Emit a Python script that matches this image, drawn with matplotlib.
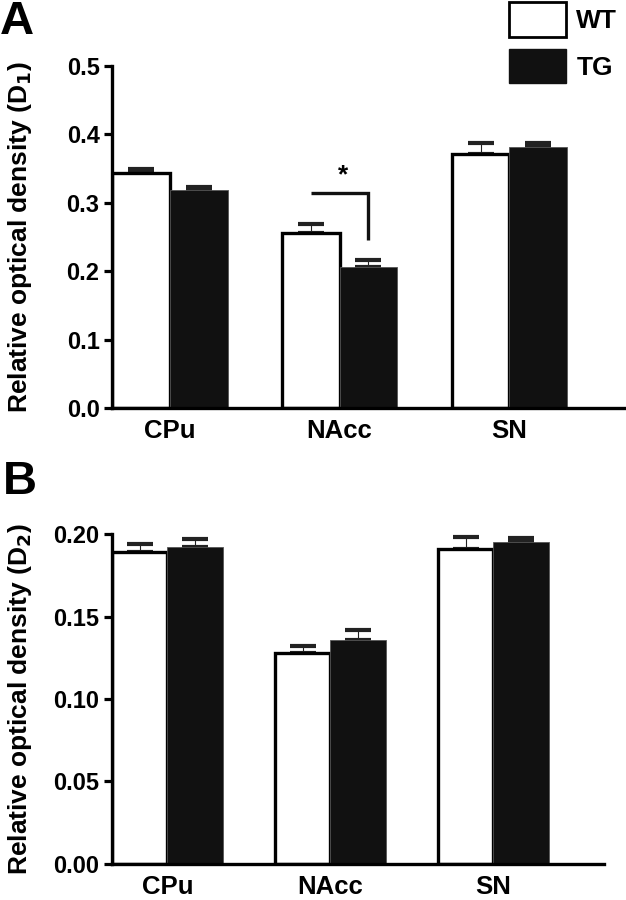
import numpy as np
import matplotlib
matplotlib.use("Agg")
import matplotlib.pyplot as plt
from matplotlib.patches import Patch

plt.rcParams['font.family'] = ['Liberation Sans', 'DejaVu Sans']
plt.rcParams['font.weight'] = 'bold'

# ---- data ----
regions = ['CPu', 'NAcc', 'SN']
groups = ['WT', 'TG']

d1_wt = [0.344, 0.256, 0.372]
d1_wt_err = [0.005, 0.013, 0.015]
d1_tg = [0.318, 0.206, 0.381]
d1_tg_err = [0.005, 0.011, 0.006]

d2_wt = [0.1895, 0.128, 0.191]
d2_wt_err = [0.0047, 0.0042, 0.0076]
d2_tg = [0.1925, 0.136, 0.1956]
d2_tg_err = [0.0045, 0.006, 0.0024]

d1_ticks = [0.0, 0.1, 0.2, 0.3, 0.4, 0.5]
d2_ticks = [0.00, 0.05, 0.10, 0.15, 0.20]

W, H = 626, 900
fig = plt.figure(figsize=(W / 100, H / 100), dpi=100)

BAR_W = 0.34
DARK = '#111111'


def panel(rect, wt, wt_err, tg, tg_err, ticks, fmt, ylabel, label_x):
    ax = fig.add_axes(rect)
    x = np.arange(1, len(regions) + 1)
    ax.bar(x - BAR_W / 2, wt, BAR_W, color='white', edgecolor='black',
           linewidth=2.4, zorder=2)
    ax.bar(x + BAR_W / 2, tg, BAR_W, color=DARK, edgecolor='#555555',
           linewidth=0.6, zorder=2)
    for xs, v, e in [(x - BAR_W / 2, wt, wt_err), (x + BAR_W / 2, tg, tg_err)]:
        ax.errorbar(xs, v, yerr=[np.zeros(len(e)), e], fmt='none',
                    ecolor='#222222', elinewidth=0.8, capsize=9.5,
                    capthick=3, zorder=1)
    ax.set_xlim(0.66, 3.68)
    ax.set_ylim(ticks[0], ticks[-1])
    ax.set_yticks(ticks)
    ax.set_yticklabels([fmt.format(t) for t in ticks], fontsize=17,
                       fontweight='bold')
    ax.set_xticks(x)
    ax.set_xticklabels(regions, fontsize=18.5, fontweight='bold')
    ax.tick_params(axis='x', length=0, pad=8)
    ax.tick_params(axis='y', length=6, width=2.3, pad=3)
    for s in ['top', 'right']:
        ax.spines[s].set_visible(False)
    for s in ['left', 'bottom']:
        ax.spines[s].set_linewidth(2.4)
    ax.spines['left'].set_zorder(3)
    ax.set_ylabel(ylabel, fontsize=19, fontweight='bold')
    ax.yaxis.set_label_coords(label_x, 0.5)
    return ax


axA = panel([112 / W, 1 - 408 / H, 513 / W, 342 / H],
            d1_wt, d1_wt_err, d1_tg, d1_tg_err, d1_ticks, '{:.1f}',
            r'Relative optical density (D$_\mathbf{1}$)', -0.152)
axB = panel([112 / W, 1 - 863.6 / H, 492 / W, 329.3 / H],
            d2_wt, d2_wt_err, d2_tg, d2_tg_err, d2_ticks, '{:.2f}',
            r'Relative optical density (D$_\mathbf{2}$)', -0.159)

# significance bracket NAcc WT vs TG
x_wt, x_tg = 2 - BAR_W / 2, 2 + BAR_W / 2
axA.plot([x_wt, x_tg, x_tg], [0.314, 0.314, 0.246], color='#111111',
         lw=2.4, solid_capstyle='butt', solid_joinstyle='miter')
axA.text(2.02, 0.322, '*', ha='center', va='bottom', fontsize=19,
         fontweight='bold')

# legend
handles = [Patch(facecolor='white', edgecolor='black', linewidth=2),
           Patch(facecolor=DARK, edgecolor=DARK)]
fig.legend(handles, groups, loc='upper left',
           bbox_to_anchor=(509 / W, 1 - 2 / H), frameon=False,
           handlelength=2.15, handleheight=1.65,
           labelspacing=0.45, handletextpad=0.4, borderpad=0,
           borderaxespad=0, prop={'weight': 'bold', 'size': 19})

fig.text(0 / W, 1 - 0 / H, 'A', fontsize=34, fontweight='bold',
         ha='left', va='top')
fig.text(3 / W, 1 - 460 / H, 'B', fontsize=34, fontweight='bold',
         ha='left', va='top')

fig.savefig('out.png', dpi=100)
